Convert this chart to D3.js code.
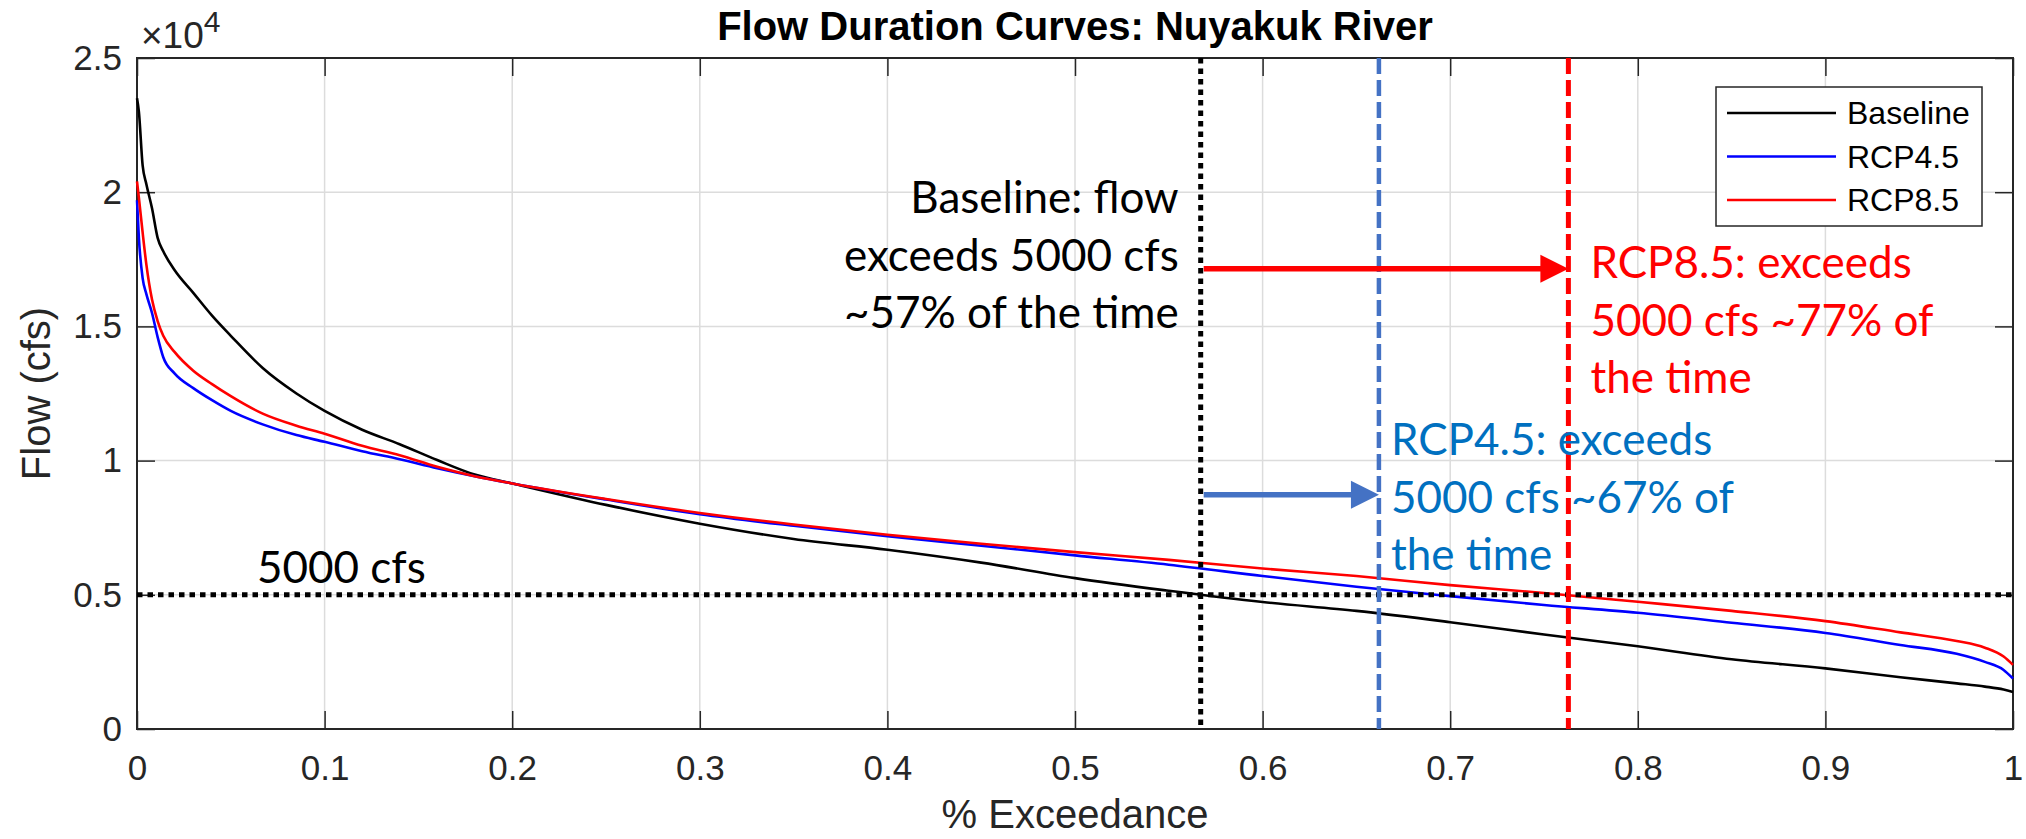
<!DOCTYPE html>
<html>
<head>
<meta charset="utf-8">
<script src="https://cdn.jsdelivr.net/npm/d3@7"></script>
<style>
  body { margin: 0; background: #fff; }
  svg { display: block; }
</style>
</head>
<body>
<div id="myPlot"></div>
<script>
// ---------------------------------------------------------------------------
// data (flow in cfs vs fraction of time exceeded)
var exceedance = [0, 0.001, 0.003, 0.005, 0.008, 0.011, 0.014, 0.02, 0.03, 0.04, 0.05,
  0.067, 0.085, 0.1, 0.12, 0.14, 0.16, 0.18, 0.2, 0.25, 0.3, 0.35, 0.4, 0.45, 0.5,
  0.55, 0.6, 0.65, 0.7, 0.75, 0.8, 0.85, 0.9, 0.94, 0.97, 0.985, 0.995, 1.0];

var baseline = [23500, 23000, 21000, 20300, 19400, 18300, 17800, 17100, 16250, 15400, 14650,
  13450, 12500, 11850, 11150, 10610, 10020, 9480, 9150, 8350, 7650, 7080, 6680, 6200, 5620,
  5150, 4730, 4400, 3980, 3520, 3080, 2600, 2260, 1930, 1700, 1580, 1470, 1380];

var rcp45 = [19700, 18300, 16800, 16200, 15500, 14600, 13850, 13250, 12700, 12250, 11850,
  11350, 10950, 10700, 10350, 10050, 9720, 9420, 9150, 8550, 8000, 7570, 7180, 6830, 6470,
  6120, 5700, 5300, 4950, 4620, 4330, 3960, 3580, 3130, 2800, 2500, 2200, 1880];

var rcp85 = [20400, 19800, 18500, 17300, 16000, 15200, 14650, 14050, 13350, 12850, 12400,
  11750, 11300, 11000, 10550, 10200, 9770, 9420, 9150, 8570, 8050, 7620, 7240, 6900, 6590,
  6300, 5980, 5700, 5360, 5070, 4740, 4400, 4020, 3600, 3280, 3030, 2700, 2390];

var seriesNames = ["Baseline", "RCP4.5", "RCP8.5"];
var seriesColors = ["#000000", "#0000ff", "#ff0000"];

var xTicks = [0, 0.1, 0.2, 0.3, 0.4, 0.5, 0.6, 0.7, 0.8, 0.9, 1];
var yTicks = [0, 5000, 10000, 15000, 20000, 25000];
var yTickLabels = ["0", "0.5", "1", "1.5", "2", "2.5"];

// threshold and the exceedance where each series drops below it
var threshold = 5000;
var crossBaseline = 0.567, cross45 = 0.662, cross85 = 0.763;
var arrow85Flow = 17150, arrow45Flow = 8730;

var baselineNote = ["Baseline: flow", "exceeds 5000 cfs", "~57% of the time"];
var rcp85Note = ["RCP8.5: exceeds", "5000 cfs ~77% of", "the time"];
var rcp45Note = ["RCP4.5: exceeds", "5000 cfs ~67% of", "the time"];

// ---------------------------------------------------------------------------
var W = 2026, H = 839;
var margin = { top: 58, right: 13, bottom: 110, left: 137 },
  width = W - margin.left - margin.right,
  height = H - margin.top - margin.bottom;

var axisColor = "#262626";
var axisFont = "'Liberation Sans', Arial, Helvetica, sans-serif";
var noteFont = "Lato, 'Open Sans', sans-serif";

var root = d3.select("#myPlot")
  .append("svg")
  .attr("width", W)
  .attr("height", H);

var svg = root.append("g")
  .attr("transform", "translate(" + margin.left + "," + margin.top + ")");

var x = d3.scaleLinear().domain([0, 1]).range([0, width]);
var y = d3.scaleLinear().domain([0, 25000]).range([height, 0]);

// grid
svg.append("g").selectAll("line")
  .data(xTicks.slice(1, -1))
  .enter().append("line")
  .attr("x1", function (d) { return x(d); })
  .attr("x2", function (d) { return x(d); })
  .attr("y1", 0).attr("y2", height)
  .attr("stroke", "#dcdcdc").attr("stroke-width", 1.5);
svg.append("g").selectAll("line")
  .data(yTicks.slice(1, -1))
  .enter().append("line")
  .attr("y1", function (d) { return y(d); })
  .attr("y2", function (d) { return y(d); })
  .attr("x1", 0).attr("x2", width)
  .attr("stroke", "#dcdcdc").attr("stroke-width", 1.5);

// axes (ticks pointing inward, box on)
var tickLen = 18;
function styleAxis(g) {
  g.select(".domain").remove();
  g.selectAll(".tick line").attr("stroke", axisColor).attr("stroke-width", 1.5);
  g.selectAll(".tick text")
    .attr("fill", axisColor)
    .style("font-family", axisFont)
    .style("font-size", "35px");
}

svg.append("g")
  .attr("transform", "translate(0," + height + ")")
  .call(d3.axisBottom(x).tickValues(xTicks).tickFormat(d3.format("")).tickSize(-tickLen).tickPadding(26))
  .call(styleAxis);

svg.append("g")
  .call(d3.axisTop(x).tickValues(xTicks).tickFormat("").tickSize(-tickLen))
  .call(styleAxis);

svg.append("g")
  .call(d3.axisLeft(y).tickValues(yTicks)
    .tickFormat(function (d, i) { return yTickLabels[i]; })
    .tickSize(-tickLen).tickPadding(15))
  .call(styleAxis);

svg.append("g")
  .attr("transform", "translate(" + width + ",0)")
  .call(d3.axisRight(y).tickValues(yTicks).tickFormat("").tickSize(-tickLen))
  .call(styleAxis);

svg.append("rect")
  .attr("width", width).attr("height", height)
  .attr("fill", "none")
  .attr("stroke", axisColor).attr("stroke-width", 2);

// exponent label
var expo = svg.append("text")
  .attr("x", 4).attr("y", -10)
  .attr("fill", axisColor)
  .style("font-family", axisFont)
  .style("font-size", "37px");
expo.append("tspan").text("\u00d710");
expo.append("tspan").attr("dy", -16).style("font-size", "30px").text("4");

// curves
var line = d3.line()
  .x(function (d) { return x(d[0]); })
  .y(function (d) { return y(d[1]); })
  .curve(d3.curveMonotoneX);

[baseline, rcp45, rcp85].forEach(function (values, i) {
  svg.append("path")
    .datum(exceedance.map(function (e, j) { return [e, values[j]]; }))
    .attr("fill", "none")
    .attr("stroke", seriesColors[i])
    .attr("stroke-width", 2.6)
    .attr("stroke-linejoin", "round")
    .attr("d", line);
});

// threshold line
svg.append("line")
  .attr("x1", 0).attr("x2", width)
  .attr("y1", y(threshold)).attr("y2", y(threshold))
  .attr("stroke", "#000").attr("stroke-width", 5)
  .attr("stroke-dasharray", "5.5,5");

// vertical markers
svg.append("line")
  .attr("x1", x(crossBaseline)).attr("x2", x(crossBaseline))
  .attr("y1", 0).attr("y2", height)
  .attr("stroke", "#000").attr("stroke-width", 5)
  .attr("stroke-dasharray", "5.5,5");
svg.append("line")
  .attr("x1", x(cross45)).attr("x2", x(cross45))
  .attr("y1", 0).attr("y2", height)
  .attr("stroke", "#4472c4").attr("stroke-width", 4.5)
  .attr("stroke-dasharray", "16,6");
svg.append("line")
  .attr("x1", x(cross85)).attr("x2", x(cross85))
  .attr("y1", 0).attr("y2", height)
  .attr("stroke", "#ff0000").attr("stroke-width", 5)
  .attr("stroke-dasharray", "16,6");

// arrows
function arrow(x0, x1, flow, color) {
  var yy = y(flow), head = 28;
  svg.append("line")
    .attr("x1", x(x0) + 3).attr("x2", x(x1) - head + 2)
    .attr("y1", yy).attr("y2", yy)
    .attr("stroke", color).attr("stroke-width", 5.5);
  svg.append("path")
    .attr("d", "M" + (x(x1) - head) + "," + (yy - 14) + "L" + x(x1) + "," + yy +
      "L" + (x(x1) - head) + "," + (yy + 14) + "Z")
    .attr("fill", color);
}
arrow(crossBaseline, cross85, arrow85Flow, "#ff0000");
arrow(crossBaseline, cross45, arrow45Flow, "#4472c4");

// notes
function note(lines, px, py, anchor, color) {
  svg.append("g").selectAll("text")
    .data(lines)
    .enter().append("text")
    .attr("x", px)
    .attr("y", function (d, i) { return py + i * 57.5; })
    .attr("text-anchor", anchor)
    .attr("fill", color)
    .style("font-family", noteFont)
    .style("font-size", "44px")
    .text(function (d) { return d; });
}
note(baselineNote, x(crossBaseline) - 22, 155, "end", "#000");
note(rcp85Note, x(cross85) + 22, 220, "start", "#ff0000");
note(rcp45Note, x(cross45) + 12, 397, "start", "#0070c0");

svg.append("text")
  .attr("x", 120).attr("y", y(threshold) - 12)
  .attr("fill", "#000")
  .style("font-family", noteFont)
  .style("font-size", "44px")
  .text("5000 cfs");

// legend
var legend = svg.append("g")
  .attr("transform", "translate(" + (width - 297) + ",29)");
legend.append("rect")
  .attr("width", 266).attr("height", 139)
  .attr("fill", "#fff")
  .attr("stroke", axisColor).attr("stroke-width", 1.5);
seriesNames.forEach(function (name, i) {
  var ly = 26 + i * 43.5;
  legend.append("line")
    .attr("x1", 11).attr("x2", 120)
    .attr("y1", ly).attr("y2", ly)
    .attr("stroke", seriesColors[i]).attr("stroke-width", 2.6);
  legend.append("text")
    .attr("x", 131).attr("y", ly)
    .attr("dy", "0.35em")
    .attr("fill", "#000")
    .style("font-family", axisFont)
    .style("font-size", "32px")
    .text(name);
});

// title and axis labels
root.append("text")
  .attr("x", margin.left + width / 2).attr("y", 40)
  .attr("text-anchor", "middle")
  .attr("fill", "#000")
  .style("font-family", axisFont)
  .style("font-size", "40px")
  .style("font-weight", "bold")
  .text("Flow Duration Curves: Nuyakuk River");

root.append("text")
  .attr("x", margin.left + width / 2).attr("y", 828)
  .attr("text-anchor", "middle")
  .attr("fill", axisColor)
  .style("font-family", axisFont)
  .style("font-size", "40px")
  .text("% Exceedance");

root.append("text")
  .attr("transform", "translate(50," + (margin.top + height / 2) + ") rotate(-90)")
  .attr("text-anchor", "middle")
  .attr("fill", axisColor)
  .style("font-family", axisFont)
  .style("font-size", "40px")
  .text("Flow (cfs)");
</script>
</body>
</html>
